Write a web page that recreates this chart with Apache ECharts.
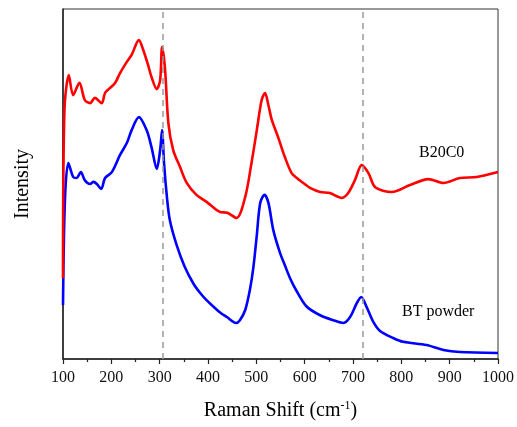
<!DOCTYPE html>
<html>
<head>
<meta charset="UTF-8">
<title>Raman</title>
<script src="https://cdn.jsdelivr.net/npm/echarts@6/dist/echarts.min.js"></script>
<style>
  html, body { margin: 0; padding: 0; background: #fff; }
  #main { width: 517px; height: 427px; }
</style>
</head>
<body>
<div id="main"></div>
<script type="text/javascript">
// Raman shift (cm-1) and relative intensity
var redShift = [100, 103, 112, 121, 134, 145, 156, 166, 180, 187, 197, 208, 218, 232, 242, 257, 266, 276, 283, 294,
  301, 305, 311, 318, 328, 342, 356, 376, 397, 425, 440, 459, 477, 490, 501, 511, 518, 525, 532, 545, 559, 573, 585, 600, 611,
  632, 652, 677, 690, 704, 718, 732, 746, 780, 818, 856, 887, 921, 956, 1000];
var redIntensity = [23.1, 71.1, 81.1, 75.4, 78.9, 74.0, 73.1, 74.6, 73.1, 76.0, 77.4, 78.9, 81.7, 84.9, 86.9, 91.1, 88.3, 84.0, 80.6, 77.1,
  79.7, 89.1, 83.0, 67.4, 59.7, 54.9, 50.3, 46.9, 44.9, 42.0, 41.8, 40.3, 46.3, 56.0, 65.4, 74.0, 76.0, 72.5, 68.3, 63.4, 57.7, 53.1, 51.6, 50.0, 48.9,
  47.7, 47.4, 46.0, 47.4, 51.1, 55.4, 53.1, 49.1, 47.7, 49.7, 51.4, 50.3, 51.7, 52.0, 53.4];

var blueShift = [100, 104, 111, 121, 128, 137, 145, 156, 163, 170, 179, 187, 201, 218, 232, 242, 257, 273, 283, 294,
  301, 305, 309, 315, 321, 335, 352, 370, 383, 397, 411, 425, 439, 458, 466, 477, 487, 494, 501, 508,
  517, 525, 535, 549, 559, 570, 583, 604, 632, 659, 680, 694, 708, 717, 728, 742, 756, 783, 804, 852,
  887, 921, 1000];
var blueIntensity = [15.4, 45.4, 56.0, 52.0, 51.7, 53.4, 51.1, 50.0, 50.6, 50.0, 48.6, 51.7, 53.4, 58.3, 61.7, 65.4, 69.1, 65.4, 60.6, 54.3,
  59.7, 65.4, 56.0, 46.3, 39.7, 32.6, 26.3, 21.5, 19.0, 16.8, 15.0, 13.3, 12.0, 10.3, 11.1, 14.0, 20.0, 26.3, 35.4, 44.6,
  46.9, 44.6, 36.9, 30.3, 26.8, 23.0, 19.5, 15.0, 12.5, 11.1, 10.3, 12.0, 16.0, 17.7, 14.9, 10.6, 8.0, 6.0, 4.9, 4.0,
  2.6, 2.0, 1.7];

var markShifts = [307, 720];
var xTicks = [100, 200, 300, 400, 500, 600, 700, 800, 900, 1000];
var seriesNames = ['B20C0', 'BT powder'];

function pairs(xs, ys) {
  return xs.map(function (x, i) { return [x, ys[i]]; });
}

var myChart = echarts.init(document.getElementById('main'));
var font = '"Liberation Serif", "DejaVu Serif", serif';

var option = {
  animation: false,
  grid: {
    left: 63, right: 19, top: 9, bottom: 68,
    show: true, borderColor: '#333', borderWidth: 1
  },
  xAxis: {
    type: 'value',
    min: xTicks[0], max: xTicks[xTicks.length - 1], interval: 100,
    name: 'Raman Shift (cm{sup|-1})',
    nameLocation: 'middle',
    nameGap: 41,
    nameTextStyle: {
      fontFamily: font, fontSize: 20, color: '#000',
      rich: { sup: { fontFamily: font, fontSize: 12, color: '#000', verticalAlign: 'top', padding: [0, 0, 10, 0] } }
    },
    axisLine: { onZero: false, lineStyle: { color: '#222', width: 1.5 } },
    axisTick: { show: true, inside: false, length: 5, lineStyle: { color: '#222', width: 1.2 } },
    minorTick: { show: true, splitNumber: 2, length: 3, lineStyle: { color: '#222', width: 1.2 } },
    axisLabel: { fontFamily: font, fontSize: 16, color: '#111', margin: 11, formatter: function (v) { return String(v); } },
    splitLine: { show: false }
  },
  yAxis: {
    type: 'value',
    min: 0, max: 100,
    name: 'Intensity',
    nameLocation: 'middle',
    nameGap: 30,
    nameTextStyle: { fontFamily: font, fontSize: 20, color: '#000' },
    axisLine: { show: true, onZero: false, lineStyle: { color: '#222', width: 1.5 } },
    axisTick: { show: false },
    axisLabel: { show: false },
    splitLine: { show: false }
  },
  graphic: [
    { type: 'text', left: 419, top: 145, style: { text: seriesNames[0], fontFamily: font, fontSize: 16, fill: '#000' } },
    { type: 'text', left: 402, top: 304, style: { text: seriesNames[1], fontFamily: font, fontSize: 16, fill: '#000' } }
  ],
  series: [
    {
      name: seriesNames[1],
      type: 'line',
      data: pairs(blueShift, blueIntensity),
      showSymbol: false,
      smooth: 0.3,
      lineStyle: { color: '#0000ff', width: 2.6 },
      markLine: {
        silent: true,
        symbol: 'none',
        label: { show: false },
        lineStyle: { color: '#999', type: [6, 5], width: 1.5 },
        data: markShifts.map(function (v) { return { xAxis: v }; })
      }
    },
    {
      name: seriesNames[0],
      type: 'line',
      data: pairs(redShift, redIntensity),
      showSymbol: false,
      smooth: 0.3,
      lineStyle: { color: '#ff0000', width: 2.6 }
    }
  ]
};

myChart.setOption(option);
</script>
</body>
</html>
